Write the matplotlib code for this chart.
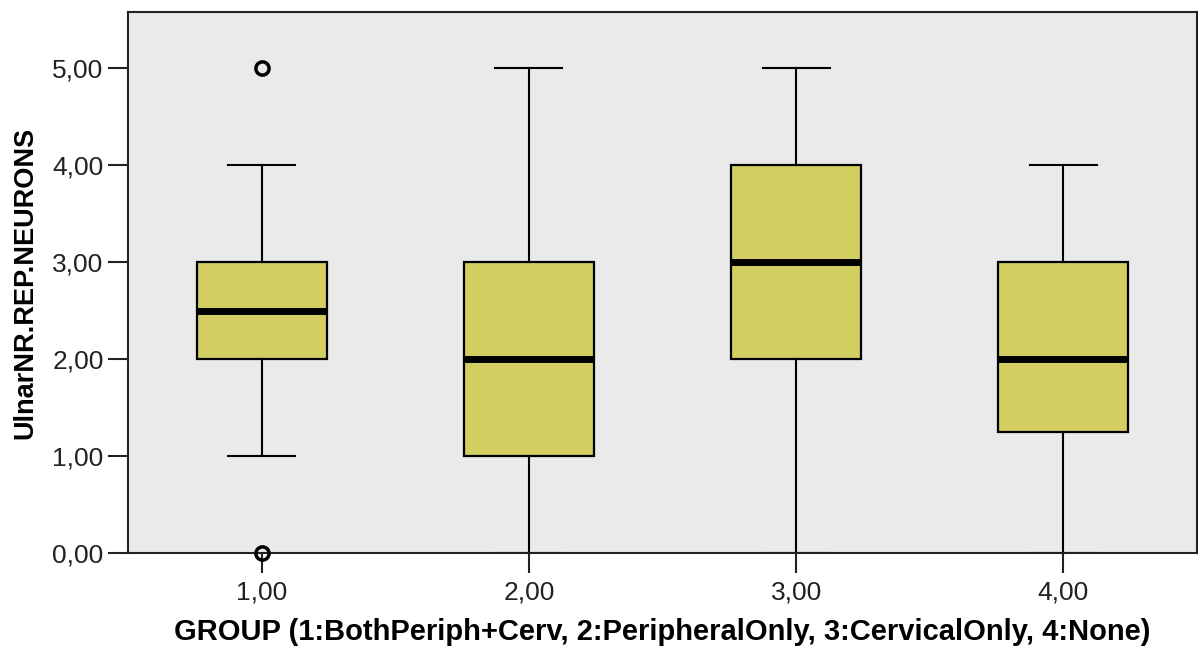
import numpy as np
import matplotlib.pyplot as plt

plt.rcParams['font.family'] = ['Liberation Sans', 'DejaVu Sans']

# box statistics
groups = [1, 2, 3, 4]
tick_labels = ["1,00", "2,00", "3,00", "4,00"]
medians = [2.5, 2.0, 3.0, 2.0]
q1 = [2.0, 1.0, 2.0, 1.25]
q3 = [3.0, 3.0, 4.0, 3.0]
whis_lo = [1.0, 0.0, 0.0, 0.0]
whis_hi = [4.0, 5.0, 5.0, 4.0]
outliers = [[0.0, 5.0], [], [], []]

stats = []
for i in range(len(groups)):
    stats.append(dict(med=medians[i], q1=q1[i], q3=q3[i],
                      whislo=whis_lo[i], whishi=whis_hi[i], fliers=outliers[i]))

fig = plt.figure(figsize=(11.98, 6.53), dpi=100)
ax = fig.add_axes([128 / 1198, 100 / 653, 1069 / 1198, 541 / 653])
ax.set_facecolor('#EAEAEA')

bp = ax.bxp(stats, positions=groups, widths=0.487, patch_artist=True,
            boxprops=dict(facecolor='#D3CE62', edgecolor='black', linewidth=1.6),
            medianprops=dict(color='black', linewidth=5, solid_capstyle='butt'),
            whiskerprops=dict(color='black', linewidth=1.5),
            capprops=dict(color='black', linewidth=1.5),
            flierprops=dict(marker='o', markerfacecolor='none', markeredgecolor='black',
                            markersize=9.5, markeredgewidth=2.5),
            capwidths=0.25)
for f in bp['fliers']:
    f.set_clip_on(False)
    f.set_zorder(5)

ax.set_xlim(0.5, 4.5)
ax.set_ylim(0, 5.58)
ax.set_xticks(groups)
ax.set_xticklabels(tick_labels)
yt = [0, 1, 2, 3, 4, 5]
ax.set_yticks(yt)
ax.set_yticklabels(["{:.2f}".format(v).replace('.', ',') for v in yt])

ax.tick_params(axis='both', length=14.5, width=1.5, labelsize=19, color='#222222',
               labelcolor='#222222')
ax.tick_params(axis='x', pad=5)
ax.tick_params(axis='y', pad=3)
for s in ax.spines.values():
    s.set_linewidth(1.5)
    s.set_color('#222222')

ax.set_xlabel("GROUP (1:BothPeriph+Cerv, 2:PeripheralOnly, 3:CervicalOnly, 4:None)",
              fontsize=21, fontweight='bold', labelpad=10)
ax.set_ylabel("UlnarNR.REP.NEURONS", fontsize=19.5, fontweight='bold', labelpad=10)

fig.savefig("out.png", dpi=100)
